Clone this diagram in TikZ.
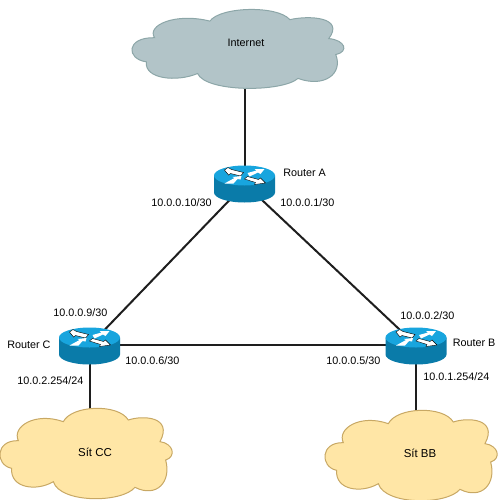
\documentclass[tikz,border=0pt]{standalone}
\usepackage{fontspec}
\setmainfont{Liberation Sans}
\usetikzlibrary{backgrounds}
\definecolor{inetfill}{HTML}{B2C4C8}
\definecolor{inetedge}{HTML}{8CA6A8}
\definecolor{netfill}{HTML}{FFE6A6}
\definecolor{netedge}{HTML}{C8A864}
\definecolor{rtop}{HTML}{18A5DE}
\definecolor{rside}{HTML}{0A7BA9}
\definecolor{linkc}{HTML}{1E1E1E}
\tikzset{
  lbl/.style={font=\fontsize{8.1pt}{10pt}\selectfont,inner sep=0pt,text=black},
  lbll/.style={lbl,anchor=west},
  cloudlbl/.style={lbl,font=\fontsize{8.6pt}{10pt}\selectfont},
  anchorpt/.style={inner sep=0pt,minimum size=0pt},
  link/.style={draw=linkc,line width=1.5pt},
  pics/cloudshape/.style={code={
    \path[pic actions,line width=0.75pt]
      (55,122) .. controls (35,80) and (105,35) .. (190,65)
      .. controls (215,15) and (355,10) .. (385,60)
      .. controls (430,45) and (520,50) .. (480,125)
      .. controls (520,130) and (530,170) .. (497,180)
      .. controls (515,245) and (470,295) .. (405,262)
      .. controls (365,310) and (180,310) .. (160,245)
      .. controls (110,275) and (30,265) .. (35,205)
      .. controls (-15,195) and (-15,120) .. (55,122) -- cycle;
  }},
  pics/routershape/.style={code={
    \fill[rside] (-30.5,0) -- (-30.5,17) arc[start angle=180,end angle=0,x radius=30.5,y radius=10] -- (30.5,0) -- cycle;
    \fill[rtop] (0,0) ellipse[x radius=30.5,y radius=10];
    \fill[white,draw=black,line width=0.3pt]
      (-20,-5.5) -- (-16.5,-8) -- (-13,-6) -- (-1,-3) -- (-4,0.5) -- (-14,-2) -- (-16,-0.5) -- cycle;
    \fill[white]
      (3,-2.5) -- (12,-5) -- (10,-6.5) -- (20,-6.5) -- (16,-1.5) -- (13.5,-3) -- (5,1) -- cycle;
    \fill[white]
      (-20,8) -- (-10,2.5) -- (-12,1.5) -- (-3,0.5) -- (-4,4) -- (-7,3.5) -- (-11,8) -- cycle;
    \fill[white,draw=black,line width=0.3pt]
      (0,3.5) -- (3,1) -- (14,4) -- (16,2.5) -- (21,7.5) -- (10,9) -- (11,7) -- cycle;
  }}
}
\begin{document}
\begin{tikzpicture}[x=0.75pt,y=-0.75pt]
\useasboundingbox (0,0) rectangle (497,500);
% clouds
\pic[fill=inetfill,draw=inetedge,xscale=0.41,yscale=0.291] at (132,2.2) {cloudshape};
\pic[fill=netfill,draw=netedge,xscale=0.3333,yscale=0.3333] at (0,400) {cloudshape};
\pic[fill=netfill,draw=netedge,xscale=0.3333,yscale=0.3333] at (325,402) {cloudshape};
% routers
\pic at (244.5,175.5) {routershape};
\pic at (89.5,337.5) {routershape};
\pic at (416,337.5) {routershape};
% anchor nodes
\node[anchorpt] (inet) at (245,60) {};
\node[anchorpt] (ra) at (245,184) {};
\node[anchorpt] (rc) at (90,345) {};
\node[anchorpt] (rb) at (416,345) {};
\node[anchorpt] (sitc) at (90,440) {};
\node[anchorpt] (sitb) at (416,440) {};
% labels
\node[lbl] (tinet) at (246,43) {Internet};
\node[cloudlbl] (tc) at (95,452) {Sít CC};
\node[cloudlbl] (tb) at (420,453) {Sít BB};
\node[lbll] (na) at (283,173) {Router A};
\node[lbll] (nc) at (7,345) {Router C};
\node[lbll] (nb) at (452.5,343) {Router B};
\node[lbl] (i1) at (181.5,203) {10.0.0.10/30};
\node[lbll] (i2) at (280,203) {10.0.0.1/30};
\node[lbll] (i3) at (53,313) {10.0.0.9/30};
\node[lbll] (i4) at (125,361) {10.0.0.6/30};
\node[lbll] (i5) at (17,381) {10.0.2.254/24};
\node[lbll] (i6) at (400,316) {10.0.0.2/30};
\node[lbll] (i7) at (326,361) {10.0.0.5/30};
\node[lbll] (i8) at (423,377) {10.0.1.254/24};
% connectors
\begin{scope}[on background layer]
\draw[link] (inet.center) -- (ra.center);
\draw[link] (ra.center) -- (rc.center);
\draw[link] (ra.center) -- (rb.center);
\draw[link] (rc.center) -- (rb.center);
\draw[link] (rc.center) -- (sitc.center);
\draw[link] (rb.center) -- (sitb.center);
\end{scope}
\end{tikzpicture}
\end{document}
